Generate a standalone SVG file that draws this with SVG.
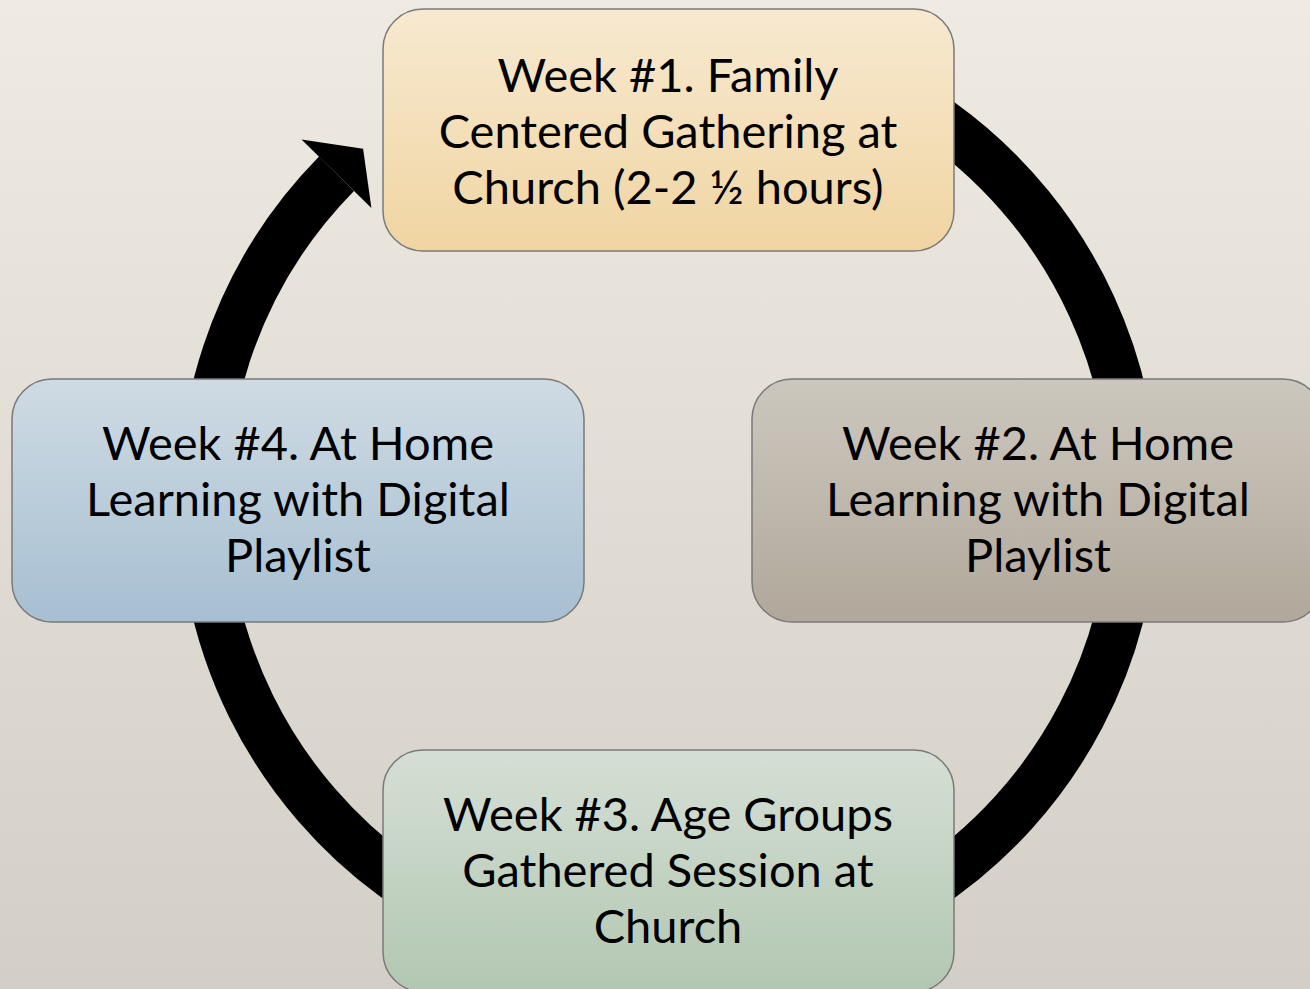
<svg xmlns="http://www.w3.org/2000/svg" width="1310" height="989" viewBox="0 0 1310 989">
<defs>
<linearGradient id="bg" x1="0" y1="0" x2="0" y2="1">
<stop offset="0" stop-color="#efebe3"/>
<stop offset="1" stop-color="#d3cec6"/>
</linearGradient>
<linearGradient id="g1" x1="0" y1="0" x2="0" y2="1">
<stop offset="0" stop-color="#f7e9d0"/>
<stop offset="1" stop-color="#f0d5a2"/>
</linearGradient>
<linearGradient id="g2" x1="0" y1="0" x2="0" y2="1">
<stop offset="0" stop-color="#ccc7be"/>
<stop offset="1" stop-color="#b1a89b"/>
</linearGradient>
<linearGradient id="g3" x1="0" y1="0" x2="0" y2="1">
<stop offset="0" stop-color="#d5dfd5"/>
<stop offset="1" stop-color="#b2c7b1"/>
</linearGradient>
<linearGradient id="g4" x1="0" y1="0" x2="0" y2="1">
<stop offset="0" stop-color="#cfdbe3"/>
<stop offset="1" stop-color="#a6bfd2"/>
</linearGradient>
<style>
.box{stroke:#7a7a7a;stroke-width:1.5}
.t{font-family:Lato,"Liberation Sans",sans-serif;font-size:47px;fill:#000;text-anchor:middle}
</style>
</defs>
<rect width="1310" height="989" fill="url(#bg)"/>
<g id="connectors">
<path d="M509.3,62.6 A465.5,465.5 0 1 1 336.5,173.7" fill="none" stroke="#000" stroke-width="49"/>
<polygon points="301.5,139.4 363.1,148.7 371.4,208.1" fill="#000"/>
</g>
<g id="node1">
<rect class="box" x="383" y="9" width="571" height="242" rx="40" fill="url(#g1)"/>
<text class="t" x="668" y="92">Week #1. Family</text>
<text class="t" x="668" y="148">Centered Gathering at</text>
<text class="t" x="668" y="204">Church (2-2 ½ hours)</text>
</g>
<g id="node2">
<rect class="box" x="752" y="379" width="571" height="243" rx="40" fill="url(#g2)"/>
<text class="t" x="1038" y="460">Week #2. At Home</text>
<text class="t" x="1038" y="516">Learning with Digital</text>
<text class="t" x="1038" y="572">Playlist</text>
</g>
<g id="node3">
<rect class="box" x="383" y="750" width="571" height="242" rx="40" fill="url(#g3)"/>
<text class="t" x="668" y="831">Week #3. Age Groups</text>
<text class="t" x="668" y="887">Gathered Session at</text>
<text class="t" x="668" y="943">Church</text>
</g>
<g id="node4">
<rect class="box" x="12" y="379" width="572" height="243" rx="40" fill="url(#g4)"/>
<text class="t" x="298" y="460">Week #4. At Home</text>
<text class="t" x="298" y="516">Learning with Digital</text>
<text class="t" x="298" y="572">Playlist</text>
</g>
</svg>
